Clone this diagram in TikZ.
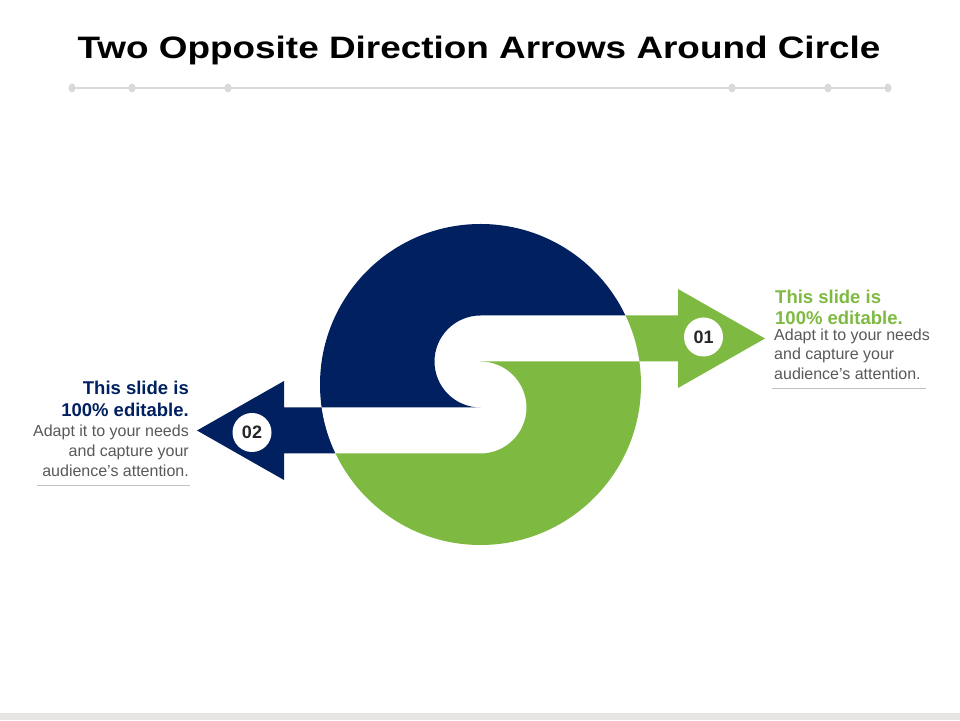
\documentclass[tikz,border=0pt]{standalone}
\usepackage{fontspec}
\setmainfont{Liberation Sans}
\usepackage{graphicx}
\definecolor{navy}{HTML}{002060}
\definecolor{grn}{HTML}{7EBA41}
\definecolor{txtgray}{HTML}{595959}
\definecolor{linegray}{HTML}{D9D9D9}
\definecolor{rulegray}{HTML}{BFBFBF}
\definecolor{footgray}{HTML}{E7E4E4}
\begin{document}
\begin{tikzpicture}[x=1pt,y=1pt,
  numcirc/.style={circle, fill=white, minimum size=39pt, inner sep=0pt, font=\bfseries\fontsize{18}{18}\selectfont, text=black!85},
  headtxt/.style={inner sep=0pt, font=\bfseries\fontsize{18.5}{18.5}\selectfont},
  bodytxt/.style={inner sep=0pt, font=\fontsize{16}{16}\selectfont, text=txtgray},
  rulestyle/.style={draw=rulegray, line width=0.8pt},
  decoline/.style={draw=linegray, line width=2pt}
]
\useasboundingbox (0,0) rectangle (960,720);
\fill[white] (0,0) rectangle (960,720);
\fill[footgray] (0,0) rectangle (960,7);

% title
\node[anchor=base, inner sep=0pt, font=\bfseries\fontsize{31}{31}\selectfont] (title) at (479,661) {\scalebox{1.19}[1]{Two Opposite Direction Arrows Around Circle}};

% decorative line
\draw[decoline] (72,632) -- (888,632);
\foreach \x in {72,132,228,732,828,888} \fill[linegray] (\x,632) ellipse[x radius=3.5, y radius=4.5];

% arrows
\fill[grn] (480.5,404.5) -- (678,404.5) -- (678,431) -- (765,381.5) -- (678,332) -- (678,358.5) -- (480.5,358.5) -- cycle;
\fill[navy] (480.5,312.5) -- (284,312.5) -- (284,339) -- (197,289.5) -- (284,240) -- (284,266.5) -- (480.5,266.5) -- cycle;

% circle
\fill[white] (480.5,335.5) circle (160.5);
\begin{scope}
\clip (480.5,335.5) circle (160.5);
\fill[navy] (300,560) -- (660,560) -- (660,404.5) -- (480.5,404.5) arc[start angle=90, end angle=270, radius=46] -- (300,312.5) -- cycle;
\fill[grn] (300,100) -- (660,100) -- (660,358.5) -- (480.5,358.5) arc[start angle=90, end angle=-90, radius=46] -- (300,266.5) -- cycle;
\end{scope}

% number badges
\node[numcirc] (n01) at (703.5,383) {01};
\node[numcirc] (n02) at (252,287.5) {02};

% right text
\node[headtxt, text=grn, anchor=base west] (r1) at (775,416.7) {This slide is};
\node[headtxt, text=grn, anchor=base west] (r2) at (775,395.5) {100\% editable.};
\node[bodytxt, anchor=base west] (r3) at (774,379.3) {Adapt it to your needs};
\node[bodytxt, anchor=base west] (r4) at (774,360) {and capture your};
\node[bodytxt, anchor=base west] (r5) at (774,340) {audience's attention.};
\draw[rulestyle] (772,332) -- (926,332);

% left text
\node[headtxt, text=navy, anchor=base east] (l1) at (189,325) {This slide is};
\node[headtxt, text=navy, anchor=base east] (l2) at (189,303.3) {100\% editable.};
\node[bodytxt, anchor=base east] (l3) at (189,283.3) {Adapt it to your needs};
\node[bodytxt, anchor=base east] (l4) at (189,263) {and capture your};
\node[bodytxt, anchor=base east] (l5) at (189,243) {audience's attention.};
\draw[rulestyle] (37,234.3) -- (190,234.3);
\end{tikzpicture}
\end{document}
